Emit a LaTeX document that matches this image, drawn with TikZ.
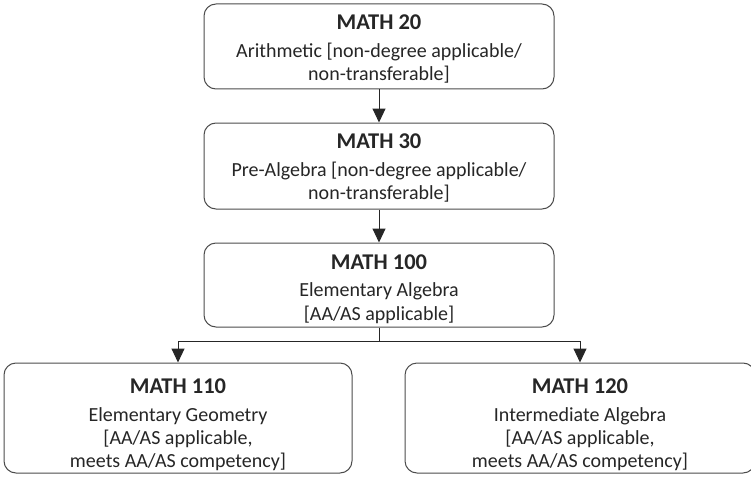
\documentclass[tikz,border=0pt]{standalone}
\usepackage{fontspec}
\setmainfont{Carlito}
\usetikzlibrary{arrows.meta}
\begin{document}
\begin{tikzpicture}[x=1pt,y=-1pt,
  box/.style={draw=black!70, line width=1pt, rounded corners=12pt, fill=white},
  txt/.style={align=center, font=\fontsize{20}{23.3}\selectfont, text=black!85, inner sep=0pt},
  arr/.style={draw=black!85, line width=1pt, -{Triangle[length=14pt,width=13pt]}}]
\useasboundingbox (0,0) rectangle (751,476);
\clip (0,0) rectangle (751,476);
\newcommand{\ttlf}[1]{{\fontsize{22.5}{23}\selectfont\bfseries #1}}
% boxes
\node[box, minimum width=350pt, minimum height=85pt] (m20) at (379,46.5) {};
\node[box, minimum width=350pt, minimum height=86pt] (m30) at (379,166) {};
\node[box, minimum width=350pt, minimum height=84pt] (m100) at (379,285) {};
\node[box, minimum width=348pt, minimum height=110pt] (m110) at (178,418) {};
\node[box, minimum width=350pt, minimum height=110pt] (m120) at (580,418) {};
% texts
\node[txt] (t20) at (379,49) {\ttlf{MATH 20}\\[4pt]Arithmetic [non-degree applicable/\\non-transferable]};
\node[txt] (t30) at (379,168) {\ttlf{MATH 30}\\[4pt]Pre-Algebra [non-degree applicable/\\non-transferable]};
\node[txt] (t100) at (379,289) {\ttlf{MATH 100}\\[4pt]Elementary Algebra\\{[AA/AS applicable]}};
\node[txt] (t110) at (178,425) {\ttlf{MATH 110}\\[4pt]Elementary Geometry\\{[AA/AS applicable,}\\meets AA/AS competency]};
\node[txt] (t120) at (580,425) {\ttlf{MATH 120}\\[4pt]Intermediate Algebra\\{[AA/AS applicable,}\\meets AA/AS competency]};
% connectors
\draw[arr] (m20.south) -- (m30.north);
\draw[arr] (m30.south) -- (m100.north);
\coordinate (br) at ([yshift=-14pt]m100.south);
\draw[draw=black!85, line width=1pt] (m100.south) -- (br);
\draw[arr] (br) -| (m110.north);
\draw[arr] (br) -| (m120.north);
\end{tikzpicture}
\end{document}
